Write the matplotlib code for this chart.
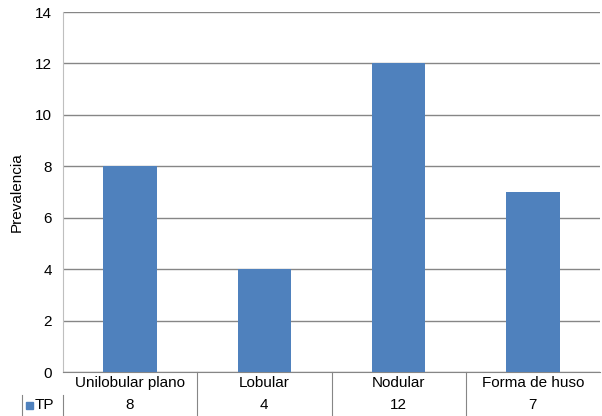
import matplotlib
matplotlib.use("Agg")
from matplotlib import pyplot as plt
from matplotlib.patches import Rectangle

categories = ["Unilobular plano", "Lobular", "Nodular", "Forma de huso"]
tp_values = [8, 4, 12, 7]
series_name = "TP"
y_ticks = [0, 2, 4, 6, 8, 10, 12, 14]

plt.rcParams["font.family"] = ["Liberation Sans", "DejaVu Sans"]
plt.rcParams["font.size"] = 11

W, H = 602, 416
fig = plt.figure(figsize=(W / 100, H / 100), dpi=100)
ax = fig.add_axes([63 / W, 44 / H, 537 / W, 360 / H])

x = list(range(len(categories)))
ax.bar(x, tp_values, width=0.4, color="#4F81BD", zorder=3)

ax.set_xlim(-0.5, len(categories) - 0.5)
ax.set_ylim(0, 14)
ax.set_yticks(y_ticks)
ax.yaxis.grid(True, color="#868686", linewidth=1.0, zorder=0)
ax.set_xticks([])
ax.tick_params(axis="y", length=0, pad=8, labelsize=11)
for s in ["top", "right"]:
    ax.spines[s].set_visible(False)
ax.spines["left"].set_color("#BFBFBF")
ax.spines["bottom"].set_color("#868686")
ax.set_ylabel("Prevalencia", fontsize=11, labelpad=8)

# data table below the axis
line_kw = dict(color="#868686", linewidth=0.8, clip_on=False, transform=ax.transData)
r1 = -11 / 360 * 14
r2 = -33 / 360 * 14
bottom = -44 / 360 * 14
mid = -23 / 360 * 14
for i, (cat, v) in enumerate(zip(categories, tp_values)):
    ax.text(i, r1, cat, ha="center", va="center", fontsize=11, clip_on=False)
    ax.text(i, r2, str(v), ha="center", va="center", fontsize=11, clip_on=False)
for b in [0.5, 1.5, 2.5]:
    ax.plot([b, b], [0, bottom], **line_kw)

# legend cell of the table
x_left = -0.5
px = 1 / 134.25
ax.plot([x_left, x_left], [mid, bottom], **line_kw)
ax.plot([x_left - 41 * px, x_left - 41 * px], [mid, bottom], **line_kw)
ax.add_patch(Rectangle((x_left - 37 * px, r2 - 3.5 / 360 * 14), 7 * px, 7 / 360 * 14,
                       color="#4F81BD", clip_on=False))
ax.text(x_left - 28 * px, r2, series_name, ha="left", va="center", fontsize=11, clip_on=False)

fig.savefig("out.png", dpi=100)
